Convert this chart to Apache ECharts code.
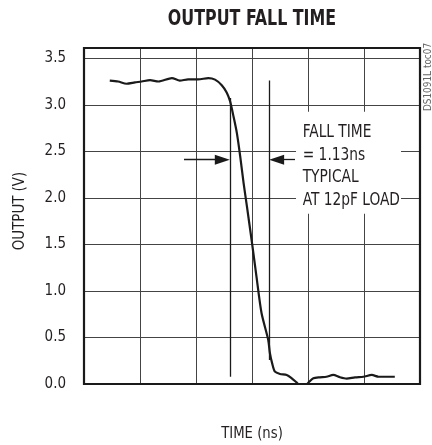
<!DOCTYPE html>
<html>
<head>
<meta charset="utf-8">
<script src="https://cdn.jsdelivr.net/npm/echarts@6/dist/echarts.min.js"></script>
<style>
html,body{margin:0;padding:0;background:#fff;}
#c{width:432px;height:445px;}
</style>
</head>
<body>
<div id="c"></div>
<script>
// ---- data ----
var timeDiv = [0.46,0.61,0.76,0.91,1.03,1.18,1.33,1.57,1.71,1.86,2.04,2.22,2.34,2.46,2.55,2.61,2.67,2.73,2.79,2.85,2.91,3.0,3.08,3.17,3.29,3.32,3.36,3.41,3.5,3.62,3.71,3.8,3.87,3.95,4.005,4.095,4.21,4.33,4.45,4.57,4.69,4.84,4.99,5.14,5.26,5.55];
var outputV = [3.26,3.25,3.226,3.24,3.25,3.265,3.25,3.287,3.26,3.272,3.272,3.287,3.27,3.21,3.13,3.035,2.874,2.696,2.444,2.158,1.906,1.516,1.154,0.763,0.473,0.33,0.222,0.132,0.108,0.097,0.061,0.014,-0.02,-0.02,0.014,0.061,0.072,0.078,0.097,0.072,0.057,0.072,0.078,0.097,0.078,0.078];
var yTicks = [0, 0.5, 1.0, 1.5, 2.0, 2.5, 3.0, 3.5];
var markerLines = [ {x:2.62, y0:0.078, y1:3.072}, {x:3.309, y0:0.258, y1:3.261} ];
var arrows = [ {from:1.786, to:2.47, y:2.41}, {from:3.768, to:3.44, y:2.41} ];
var noteBox = {x0:3.786, x1:5.661, y0:1.828, y1:2.925};
var noteText = ['FALL TIME','= 1.13ns','TYPICAL','AT 12pF LOAD'];
var titleText = 'OUTPUT FALL TIME';
var xName = 'TIME (ns)';
var yName = 'OUTPUT (V)';
var docId = 'DS1091L toc07';

var FONT = "'Liberation Sans Narrow','DejaVu Sans Condensed','Liberation Sans',sans-serif";
var GL = 84, GT = 48, GW = 336, GH = 336;

var chart = echarts.init(document.getElementById('c'), null, {renderer:'canvas'});

var lineData = timeDiv.map(function(t,i){return [t, outputV[i]];});
var mlData = [];
markerLines.forEach(function(m){ mlData.push([{coord:[m.x,m.y0], symbol:'none'},{coord:[m.x,m.y1], symbol:'none'}]); });
arrows.forEach(function(a){ mlData.push([{coord:[a.from,a.y], symbol:'none'},{coord:[a.to,a.y], symbol:'triangle', symbolSize:[10,15], symbolRotate: a.to>a.from ? -90 : 90}]); });

chart.setOption({
  animation:false,
  backgroundColor:'#fff',
  grid:{left:GL, top:GT, width:GW, height:GH, show:false},
  xAxis:{type:'value', min:0, max:6, interval:1,
    axisLine:{show:false}, axisTick:{show:false}, axisLabel:{show:false},
    splitLine:{show:true, lineStyle:{color:'#444', width:1}}},
  yAxis:{type:'value', min:0, max:3.61, interval:0.5,
    axisLine:{show:false}, axisTick:{show:false},
    axisLabel:{show:true, margin:18, fontFamily:FONT, fontSize:15, color:'#231f20', showMaxLabel:false,
      formatter:function(v){ var ok = yTicks.some(function(t){return Math.abs(t-v)<1e-6;}); return ok ? v.toFixed(1) : ''; }},
    splitLine:{show:true, lineStyle:{color:'#444', width:1}}},
  series:[{
    type:'line', data:lineData, smooth:0.25, symbol:'none', clip:true,
    lineStyle:{color:'#1a1a1a', width:2.2},
    markArea:{silent:true, itemStyle:{color:'#ffffff', opacity:1}, label:{show:false},
      data:[[{coord:[noteBox.x0,noteBox.y1]},{coord:[noteBox.x1,noteBox.y0]}]]},
    markLine:{silent:true, symbol:'none', label:{show:false},
      lineStyle:{color:'#1a1a1a', width:1.3, type:'solid'},
      emphasis:{disabled:true}, data: mlData}
  }]
});

var boxTL = chart.convertToPixel({gridIndex:0}, [noteBox.x0, noteBox.y1]);

chart.setOption({
  graphic:[
    {type:'rect', z:100, silent:true, shape:{x:GL, y:GT, width:GW, height:GH},
      style:{fill:'none', stroke:'#1a1a1a', lineWidth:2.2}},
    {type:'text', z:100, x:boxTL[0]+6.7, y:boxTL[1]+9.75, scaleX:0.9,
      style:{text:noteText.join('\n'), font:"17px "+FONT, lineHeight:22.5, fill:'#231f20', align:'left', verticalAlign:'top'}},
    {type:'text', z:100, x:252, y:20, scaleX:0.84, style:{text:titleText, font:"bold 21px "+FONT, fill:'#231f20', align:'center', verticalAlign:'middle'}},
    {type:'text', z:100, x:252, y:434, scaleX:0.92, style:{text:xName, font:"16px "+FONT, fill:'#231f20', align:'center', verticalAlign:'middle'}},
    {type:'text', z:100, x:19.5, y:211, rotation:Math.PI/2, scaleX:0.93, style:{text:yName, font:"16px "+FONT, fill:'#231f20', align:'center', verticalAlign:'middle'}},
    {type:'text', z:100, x:428.5, y:77, rotation:Math.PI/2, scaleX:0.9, style:{text:docId, font:"11px "+FONT, fill:'#666', align:'center', verticalAlign:'middle'}}
  ]
});
</script>
</body>
</html>
